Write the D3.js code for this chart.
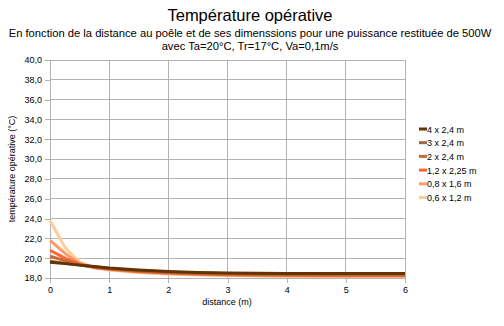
<!DOCTYPE html>
<html><head><meta charset="utf-8">
<script src="https://cdn.jsdelivr.net/npm/d3@7"></script>
<style>body{margin:0;background:#fff;font-family:"Liberation Sans",Arial,sans-serif}</style>
</head><body><svg id="c" width="504" height="326"></svg>
<script>
const distances = [0, 0.25, 0.5, 0.75, 1, 1.5, 2, 2.5, 3, 3.5, 4, 4.5, 5, 5.5, 6];
const seriesNames = ["4 x 2,4 m", "3 x 2,4 m", "2 x 2,4 m", "1,2 x 2,25 m", "0,8 x 1,6 m", "0,6 x 1,2 m"];
const s4x24  = [19.6, 19.45, 19.3, 19.15, 19.0, 18.8, 18.65, 18.55, 18.5, 18.47, 18.45, 18.45, 18.45, 18.45, 18.45];
const s3x24  = [19.7, 19.5, 19.3, 19.1, 18.95, 18.75, 18.6, 18.5, 18.45, 18.42, 18.4, 18.4, 18.4, 18.4, 18.4];
const s2x24  = [20.2, 19.75, 19.35, 19.1, 18.95, 18.7, 18.55, 18.45, 18.4, 18.35, 18.33, 18.32, 18.3, 18.3, 18.3];
const s12x225 = [20.8, 20.0, 19.4, 19.05, 18.9, 18.65, 18.5, 18.4, 18.33, 18.3, 18.27, 18.25, 18.25, 18.25, 18.25];
const s08x16 = [21.8, 20.5, 19.5, 19.05, 18.85, 18.6, 18.45, 18.35, 18.3, 18.25, 18.22, 18.2, 18.2, 18.2, 18.2];
const s06x12 = [23.8, 21.1, 19.6, 19.0, 18.8, 18.55, 18.4, 18.3, 18.25, 18.2, 18.18, 18.17, 18.16, 18.15, 18.15];
const seriesValues = [s4x24, s3x24, s2x24, s12x225, s08x16, s06x12];
const colors = ["#663300", "#9c6a45", "#c8693a", "#ff6633", "#ff9966", "#ffcc99"];
const xTicks = [0, 1, 2, 3, 4, 5, 6];
const yTicks = [18, 20, 22, 24, 26, 28, 30, 32, 34, 36, 38, 40];

const svg = d3.select("#c");
const x = d3.scaleLinear().domain([0, 6]).range([50, 405]);
const y = d3.scaleLinear().domain([18, 40]).range([278, 60]);
const fmt = d => d3.format(".1f")(d).replace(".", ",");

// grid
svg.append("g").selectAll("line").data(yTicks).join("line")
  .attr("x1", x(0)).attr("x2", x(6)).attr("y1", d => y(d)).attr("y2", d => y(d))
  .attr("stroke", "#b3b3b3").attr("stroke-width", 1).attr("shape-rendering", "crispEdges");
svg.append("g").selectAll("line").data(xTicks.slice(1)).join("line")
  .attr("x1", d => x(d)).attr("x2", d => x(d)).attr("y1", y(40)).attr("y2", y(18))
  .attr("stroke", "#b3b3b3").attr("stroke-width", 1).attr("shape-rendering", "crispEdges");

// axes
const xa = svg.append("g").attr("transform", `translate(0,${y(18)})`)
  .call(d3.axisBottom(x).tickValues(xTicks).tickSize(5).tickPadding(4).tickFormat(d3.format("d")));
const ya = svg.append("g").attr("transform", `translate(${x(0)},0)`)
  .call(d3.axisLeft(y).tickValues(yTicks).tickSize(5).tickPadding(3).tickFormat(fmt));
[xa, ya].forEach(a => {
  a.select(".domain").attr("stroke", "#b3b3b3").attr("shape-rendering", "crispEdges");
  a.selectAll(".tick line").attr("stroke", "#b3b3b3").attr("shape-rendering", "crispEdges");
  a.selectAll("text").attr("font-family", "Liberation Sans, Arial, sans-serif").attr("font-size", 9).attr("fill", "#000");
});

// lines
const line = d3.line().x((d, i) => x(distances[i])).y(d => y(d));
svg.append("g").selectAll("path").data(seriesValues.slice().reverse()).join("path")
  .attr("d", line).attr("fill", "none")
  .attr("stroke", (d, i) => colors[colors.length - 1 - i]).attr("stroke-width", 3)
  .attr("stroke-linejoin", "round");

// titles
svg.append("text").attr("x", 250).attr("y", 21).attr("text-anchor", "middle")
  .attr("font-size", 16.5).attr("font-family", "Liberation Sans, Arial, sans-serif").text("Température opérative");
svg.append("text").attr("x", 250).attr("y", 37).attr("text-anchor", "middle")
  .attr("font-size", 11.2).text("En fonction de la distance au poêle et de ses dimenssions pour une puissance restituée de 500W");
svg.append("text").attr("x", 250).attr("y", 50).attr("text-anchor", "middle")
  .attr("font-size", 11.2).text("avec Ta=20°C, Tr=17°C, Va=0,1m/s");
svg.append("text").attr("x", 227).attr("y", 305).attr("text-anchor", "middle")
  .attr("font-size", 9).text("distance (m)");
svg.append("text").attr("transform", `translate(15,${y(29)}) rotate(-90)`).attr("text-anchor", "middle")
  .attr("font-size", 9).text("température opérative (°C)");

// legend
const lg = svg.append("g").selectAll("g").data(seriesNames).join("g")
  .attr("transform", (d, i) => `translate(419,${129 + i * 13.7})`);
lg.append("line").attr("x1", 0).attr("x2", 8).attr("y1", 0).attr("y2", 0)
  .attr("stroke", (d, i) => colors[i]).attr("stroke-width", 3);
lg.append("text").attr("x", 8).attr("y", 3.5).attr("font-size", 9).text(d => d);
</script></body></html>
